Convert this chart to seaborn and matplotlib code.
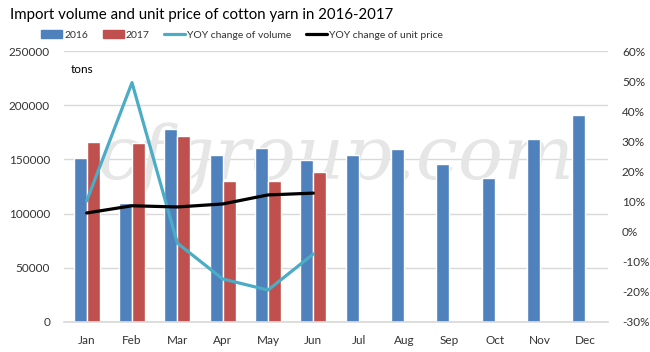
import matplotlib
matplotlib.use("Agg")
import matplotlib.pyplot as plt
import matplotlib.ticker as mtick
from matplotlib.patches import Patch
from matplotlib.lines import Line2D
import seaborn as sns
import pandas as pd
import numpy as np

# Data
months = ["Jan", "Feb", "Mar", "Apr", "May", "Jun",
          "Jul", "Aug", "Sep", "Oct", "Nov", "Dec"]
vol_2016 = [151000, 110000, 178000, 154500, 160500, 149500,
            154500, 159500, 146000, 133000, 169000, 191000]
vol_2017 = [166000, 165000, 171500, 130500, 130500, 138500]
yoy_volume = [10.2, 49.5, -3.8, -15.7, -19.4, -7.4]      # %
yoy_price = [6.2, 8.6, 8.2, 9.2, 12.2, 12.8]            # %

blue, red, cyan = "#4F81BD", "#C0504D", "#4BACC6"
text_col = "#333333"

# long-form table for seaborn
df = pd.DataFrame({
    "month": months * 2,
    "year": ["2016"] * 12 + ["2017"] * 12,
    "volume": vol_2016 + vol_2017 + [np.nan] * (12 - len(vol_2017)),
})

sns.set_theme(style="white")
plt.rcParams["font.family"] = ["Lato", "DejaVu Sans"]

fig = plt.figure(figsize=(6.5, 3.52), dpi=100)
ax = fig.add_axes([64 / 650, 30 / 352, 544 / 650, 271 / 352])

sns.barplot(data=df, x="month", y="volume", hue="year", order=months,
            palette={"2016": blue, "2017": red}, width=0.58, gap=0,
            saturation=1, ax=ax, legend=False, zorder=2)

ax.set_ylim(0, 250000)
ax.yaxis.set_major_locator(mtick.MultipleLocator(50000))
ax.grid(axis="y", color="#d9d9d9", linewidth=1, zorder=0)
ax.set_axisbelow(True)
ax.set_xlabel("")
ax.set_ylabel("")
for s in ["left", "right", "top"]:
    ax.spines[s].set_visible(False)
ax.spines["bottom"].set_color("#d9d9d9")
ax.tick_params(axis="both", length=0, labelsize=8.5, colors=text_col)
ax.tick_params(axis="x", pad=9)
ax.tick_params(axis="y", pad=10)
ax.set_xlim(-0.5, 11.5)

# watermark
ax.text(5.5, 150000, "cfgroup.com", fontsize=54, family="DejaVu Serif",
        style="italic", color="#e6e6e6", ha="center", va="center", zorder=1)

ax.text(-0.36, 233000, "tons", fontsize=8.5, color="black", ha="left", va="center")

# secondary axis for YOY changes
ax2 = ax.twinx()
pos = np.arange(len(yoy_volume))
sns.lineplot(x=pos, y=yoy_volume, color=cyan, linewidth=2.3, ax=ax2)
sns.lineplot(x=pos, y=yoy_price, color="black", linewidth=2.3, ax=ax2)
ax2.set_ylim(-30, 60)
ax2.yaxis.set_major_locator(mtick.MultipleLocator(10))
ax2.yaxis.set_major_formatter(mtick.FuncFormatter(lambda v, p: f"{v:.0f}%"))
ax2.tick_params(axis="y", length=0, labelsize=8.5, colors=text_col, pad=10)
for s in ax2.spines.values():
    s.set_visible(False)
ax2.grid(False)

fig.text(10 / 650, 1 - 15 / 352, "Import volume and unit price of cotton yarn in 2016-2017",
         fontsize=10.8, color="black", ha="left", va="center")

handles = [Patch(color=blue, label="2016"), Patch(color=red, label="2017"),
           Line2D([], [], color=cyan, lw=2.3, label="YOY change of volume"),
           Line2D([], [], color="black", lw=2.3, label="YOY change of unit price")]
fig.legend(handles=handles, loc="center left", bbox_to_anchor=(32 / 650, 1 - 35 / 352),
           ncol=4, frameon=False, fontsize=7.5, handlelength=2.0, handleheight=0.7,
           handletextpad=0.2, columnspacing=1.4, labelcolor=text_col)

fig.savefig("out.png", dpi=100)
